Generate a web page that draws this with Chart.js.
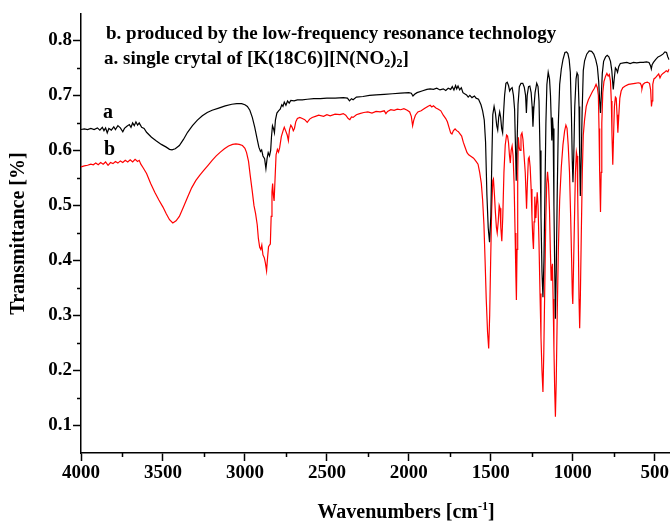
<!DOCTYPE html>
<html>
<head>
<meta charset="utf-8">
<script src="https://cdn.jsdelivr.net/npm/chart.js@4.4.0/dist/chart.umd.min.js"></script>
<style>
  html, body { margin: 0; padding: 0; background: #fff; }
  #wrap { width: 670px; height: 523px; }
</style>
</head>
<body>
<div id="wrap"><canvas id="irChart" width="670" height="523"></canvas></div>
<script>
// curve a: single crystal (black)
const waveA = [4000,3980,3960,3940,3920,3900,3885,3870,3860,3850,3840,3830,3815,3800,3790,3775,3760,3745,3735,3720,3705,3695,3685,3675,3665,3655,3645,3630,3615,3600,
  3570,3540,3510,3480,3460,3445,3425,3400,3375,3350,3320,3290,3260,3230,3200,3160,3120,3080,3050,3020,3000,2985,2970,2955,2940,2925,2915,2905,2898,2890,
  2880,2872,2865,2858,2850,2843,2838,2832,2826,2820,2814,2805,2795,2785,2775,2768,2760,2750,2740,2730,2720,2700,2680,2650,2620,2580,2540,2500,2450,2400,
  2375,2362,2350,2340,2320,2280,2240,2200,2150,2100,2050,2000,1985,1975,1965,1950,1920,1890,1870,1850,1830,1810,1790,1775,1760,1745,1735,1725,1715,1708,
  1700,1690,1680,1670,1660,1648,1638,1628,1615,1600,1590,1575,1560,1550,1540,1532,1524,1516,1508,1500,1494,1488,1480,1472,1464,1458,1452,1446,1440,1434,
  1428,1422,1416,1408,1400,1392,1385,1378,1370,1362,1355,1349,1345,1340,1334,1326,1316,1305,1296,1288,1283,1278,1270,1262,1254,1248,1243,1238,1230,1220,
  1212,1206,1200,1194,1188,1182,1176,1170,1164,1158,1150,1142,1136,1131,1128,1124,1120,1115,1110,1106,1101,1095,1088,1080,1070,1060,1048,1038,1030,1022,
  1015,1008,1003,999,994,988,980,974,968,962,958,954,949,943,936,928,915,900,885,872,860,850,842,836,831,826,820,812,800,790,
  780,770,762,757,753,748,740,733,727,720,710,690,670,650,630,610,590,570,550,535,526,521,516,508,495,480,465,450,438,428,420,412];
const transA = [0.638,0.639,0.638,0.640,0.638,0.641,0.637,0.642,0.636,0.641,0.632,0.640,0.637,0.643,0.638,0.645,0.641,0.634,0.640,0.644,0.647,0.642,0.650,0.645,0.652,0.646,0.650,0.642,0.640,0.633,
  0.624,0.617,0.611,0.606,0.602,0.601,0.603,0.609,0.620,0.633,0.645,0.655,0.663,0.669,0.673,0.677,0.681,0.684,0.685,0.685,0.683,0.680,0.673,0.660,0.642,0.620,0.606,0.598,0.601,0.590,
  0.585,0.567,0.585,0.596,0.590,0.600,0.625,0.645,0.640,0.632,0.655,0.668,0.672,0.675,0.683,0.680,0.688,0.682,0.690,0.686,0.691,0.690,0.692,0.692,0.693,0.694,0.694,0.695,0.695,0.696,
  0.695,0.690,0.694,0.692,0.697,0.698,0.700,0.701,0.702,0.703,0.704,0.705,0.704,0.699,0.702,0.705,0.708,0.711,0.712,0.711,0.713,0.710,0.712,0.709,0.713,0.711,0.716,0.710,0.718,0.712,
  0.717,0.710,0.714,0.705,0.703,0.701,0.697,0.700,0.696,0.699,0.695,0.693,0.683,0.672,0.655,0.615,0.520,0.460,0.433,0.480,0.580,0.665,0.680,0.668,0.645,0.637,0.660,0.670,0.660,0.640,
  0.632,0.670,0.700,0.722,0.724,0.718,0.708,0.712,0.714,0.700,0.675,0.600,0.545,0.610,0.684,0.716,0.722,0.722,0.715,0.700,0.668,0.700,0.716,0.717,0.705,0.680,0.643,0.675,0.705,0.722,
  0.716,0.690,0.600,0.480,0.380,0.333,0.400,0.520,0.650,0.720,0.742,0.730,0.700,0.650,0.618,0.660,0.640,0.500,0.380,0.294,0.380,0.520,0.650,0.720,0.748,0.765,0.778,0.779,0.776,0.765,
  0.742,0.660,0.580,0.542,0.590,0.680,0.730,0.741,0.737,0.680,0.590,0.517,0.580,0.670,0.745,0.763,0.775,0.781,0.780,0.775,0.765,0.752,0.725,0.690,0.668,0.700,0.740,0.762,0.770,0.773,
  0.770,0.762,0.745,0.725,0.711,0.728,0.750,0.747,0.742,0.752,0.758,0.759,0.760,0.758,0.760,0.759,0.760,0.760,0.761,0.760,0.754,0.748,0.756,0.760,0.765,0.770,0.772,0.775,0.779,0.778,0.770,0.765];

// curve b: low-frequency resonance product (red)
const waveB = [4000,3980,3960,3940,3925,3910,3895,3880,3865,3850,3835,3820,3805,3790,3775,3760,3745,3730,3715,3700,3685,3670,3655,3645,3635,3620,3600,3575,3550,3525,
  3500,3480,3460,3440,3420,3400,3375,3350,3325,3300,3275,3250,3225,3200,3175,3150,3125,3100,3075,3055,3035,3015,3000,2990,2978,2968,2955,2945,2935,2925,
  2918,2910,2903,2897,2890,2882,2875,2868,2862,2856,2850,2845,2840,2835,2831,2827,2822,2816,2810,2802,2795,2788,2778,2768,2760,2752,2742,2735,2728,2720,
  2712,2705,2698,2690,2680,2665,2650,2635,2620,2605,2590,2570,2550,2520,2500,2480,2450,2420,2400,2385,2370,2360,2350,2340,2320,2300,2275,2250,2225,2200,
  2175,2150,2140,2130,2110,2090,2070,2050,2030,2010,1995,1985,1977,1970,1960,1945,1925,1905,1885,1870,1860,1850,1835,1820,1805,1790,1775,1765,1755,1745,
  1737,1728,1718,1708,1698,1688,1678,1668,1656,1645,1635,1620,1605,1590,1578,1568,1558,1550,1542,1535,1528,1520,1513,1507,1501,1495,1488,1484,1478,1472,
  1466,1461,1455,1449,1444,1439,1433,1427,1420,1412,1404,1398,1392,1386,1381,1376,1370,1364,1358,1352,1347,1344,1340,1336,1332,1327,1322,1316,1310,1304,
  1297,1290,1285,1282,1277,1271,1266,1260,1254,1249,1244,1240,1236,1232,1228,1225,1221,1217,1212,1206,1200,1194,1188,1182,1177,1171,1165,1159,1154,1148,
  1142,1137,1132,1128,1124,1120,1115,1110,1106,1101,1095,1088,1080,1070,1060,1050,1042,1035,1028,1020,1013,1007,1003,1000,996,990,984,978,974,970,
  966,962,958,954,948,942,936,928,918,905,892,880,868,858,850,844,840,836,831,827,823,817,810,800,792,784,777,770,765,761,
  756,751,746,740,735,730,725,720,713,705,695,680,660,640,620,600,588,582,578,572,560,545,532,525,520,516,512,505,496,485,
  476,468,460,450,440,430,420,412];
const transB = [0.570,0.572,0.573,0.575,0.574,0.577,0.574,0.578,0.575,0.579,0.573,0.578,0.576,0.580,0.577,0.581,0.578,0.582,0.579,0.583,0.579,0.584,0.580,0.582,0.575,0.568,0.558,0.540,0.524,0.510,
  0.497,0.485,0.474,0.468,0.472,0.480,0.497,0.515,0.532,0.545,0.555,0.564,0.573,0.582,0.590,0.597,0.603,0.608,0.611,0.612,0.611,0.609,0.604,0.596,0.580,0.555,0.525,0.500,0.485,0.465,
  0.440,0.424,0.420,0.428,0.410,0.405,0.395,0.381,0.405,0.425,0.428,0.430,0.480,0.525,0.540,0.520,0.508,0.550,0.592,0.602,0.597,0.605,0.625,0.635,0.642,0.636,0.628,0.618,0.638,0.646,
  0.642,0.636,0.640,0.652,0.658,0.660,0.658,0.656,0.651,0.657,0.660,0.662,0.664,0.662,0.665,0.663,0.666,0.665,0.667,0.664,0.658,0.656,0.661,0.660,0.665,0.667,0.669,0.670,0.668,0.671,
  0.670,0.672,0.667,0.671,0.674,0.673,0.675,0.674,0.676,0.673,0.670,0.662,0.645,0.655,0.664,0.670,0.672,0.676,0.680,0.682,0.679,0.681,0.677,0.675,0.672,0.664,0.658,0.652,0.642,0.632,
  0.630,0.636,0.639,0.636,0.634,0.630,0.626,0.615,0.605,0.596,0.592,0.589,0.586,0.580,0.575,0.560,0.540,0.510,0.465,0.400,0.330,0.270,0.240,0.300,0.400,0.490,0.545,0.548,0.520,0.487,
  0.460,0.450,0.470,0.500,0.495,0.460,0.435,0.480,0.560,0.610,0.628,0.626,0.614,0.590,0.577,0.600,0.608,0.590,0.540,0.450,0.370,0.328,0.420,0.560,0.624,0.605,0.600,0.628,0.632,0.620,
  0.590,0.560,0.520,0.494,0.540,0.585,0.588,0.570,0.530,0.480,0.440,0.421,0.470,0.516,0.490,0.477,0.505,0.524,0.500,0.430,0.340,0.260,0.200,0.161,0.230,0.350,0.470,0.540,0.561,0.540,
  0.490,0.420,0.364,0.385,0.394,0.330,0.240,0.160,0.116,0.180,0.300,0.420,0.510,0.570,0.610,0.635,0.646,0.640,0.610,0.560,0.480,0.400,0.340,0.321,0.380,0.470,0.560,0.597,0.590,0.520,
  0.430,0.330,0.277,0.330,0.450,0.560,0.628,0.656,0.680,0.692,0.700,0.707,0.713,0.720,0.714,0.700,0.640,0.560,0.488,0.560,0.650,0.705,0.725,0.735,0.740,0.735,0.738,0.725,0.690,0.630,
  0.574,0.630,0.680,0.697,0.695,0.665,0.632,0.660,0.695,0.708,0.714,0.717,0.720,0.721,0.722,0.723,0.722,0.718,0.712,0.720,0.723,0.724,0.722,0.710,0.680,0.690,0.720,0.730,0.732,0.736,
  0.739,0.732,0.737,0.740,0.742,0.745,0.743,0.748];

const xTicks = [4000, 3500, 3000, 2500, 2000, 1500, 1000, 500];
const yTicks = [0.1, 0.2, 0.3, 0.4, 0.5, 0.6, 0.7, 0.8];
const minorX = [3750, 3250, 2750, 2250, 1750, 1250, 750];
const minorY = [0.15, 0.25, 0.35, 0.45, 0.55, 0.65, 0.75];

const serif = '"Liberation Serif", "Times New Roman", serif';

function drawRuns(ctx, x, y, runs) {
  let cx = x;
  runs.forEach(r => {
    ctx.font = 'bold ' + r.size + 'px ' + serif;
    ctx.fillText(r.t, cx, y + (r.dy || 0));
    cx += ctx.measureText(r.t).width;
  });
}
function runsWidth(ctx, runs) {
  let w = 0;
  runs.forEach(r => {
    ctx.font = 'bold ' + r.size + 'px ' + serif;
    w += ctx.measureText(r.t).width;
  });
  return w;
}

const annotations = {
  id: 'annotations',
  afterDraw(chart) {
    const ctx = chart.ctx;
    const xs = chart.scales.x, ys = chart.scales.y;
    ctx.save();
    ctx.strokeStyle = '#000';
    ctx.fillStyle = '#000';
    ctx.lineWidth = 1.5;
    ctx.beginPath();
    minorX.forEach(v => {
      const px = Math.round(xs.getPixelForValue(v)) + 0.5;
      ctx.moveTo(px, xs.top);
      ctx.lineTo(px, xs.top + 4);
    });
    minorY.forEach(v => {
      const py = Math.round(ys.getPixelForValue(v)) + 0.5;
      ctx.moveTo(ys.right, py);
      ctx.lineTo(ys.right - 4, py);
    });
    ctx.stroke();

    ctx.textAlign = 'left';
    ctx.textBaseline = 'alphabetic';
    drawRuns(ctx, 103, 118, [{t: 'a', size: 20}]);
    drawRuns(ctx, 104, 155, [{t: 'b', size: 20}]);
    drawRuns(ctx, 106, 39, [{t: 'b. produced by the low-frequency resonance technology', size: 19}]);
    drawRuns(ctx, 104, 64, [
      {t: 'a. single crytal of [K(18C6)][N(NO', size: 19},
      {t: '2', size: 12, dy: 3},
      {t: ')', size: 19},
      {t: '2', size: 12, dy: 3},
      {t: ']', size: 19}
    ]);
    const xTitle = [
      {t: 'Wavenumbers [cm', size: 20},
      {t: '-1', size: 12, dy: -8},
      {t: ']', size: 20}
    ];
    drawRuns(ctx, 406 - runsWidth(ctx, xTitle) / 2, 518, xTitle);
    ctx.restore();
  }
};

const ptsA = waveA.map((w, i) => ({x: w, y: transA[i]}));
const ptsB = waveB.map((w, i) => ({x: w, y: transB[i]}));

const tickFont = {family: serif, size: 19, weight: 'bold'};

new Chart(document.getElementById('irChart').getContext('2d'), {
  type: 'line',
  data: {
    datasets: [
      {label: 'a', data: ptsA, borderColor: '#000000', borderWidth: 1.2, pointRadius: 0, tension: 0, fill: false},
      {label: 'b', data: ptsB, borderColor: '#ff0000', borderWidth: 1.2, pointRadius: 0, tension: 0, fill: false}
    ]
  },
  options: {
    responsive: false,
    devicePixelRatio: 1,
    animation: false,
    parsing: false,
    layout: {padding: {top: 14, right: 0, left: 0, bottom: 0}},
    plugins: {legend: {display: false}, tooltip: {enabled: false}},
    scales: {
      x: {
        type: 'linear',
        reverse: true,
        min: 410,
        max: 4000,
        afterFit: s => { s.height = 70; },
        afterBuildTicks: s => { s.ticks = xTicks.map(v => ({value: v})); },
        border: {display: true, color: '#000', width: 1.5},
        grid: {drawOnChartArea: false, drawTicks: true, tickLength: 8, tickColor: '#000', tickWidth: 1.5},
        ticks: {color: '#000', font: tickFont, padding: 1, maxRotation: 0, minRotation: 0,
          autoSkip: false, callback: v => String(v)},
        title: {display: false}
      },
      y: {
        type: 'linear',
        min: 0.05,
        max: 0.848,
        afterFit: s => { s.width = 81; },
        afterBuildTicks: s => { s.ticks = yTicks.map(v => ({value: v})); },
        border: {display: true, color: '#000', width: 1.5},
        grid: {drawOnChartArea: false, drawTicks: true, tickLength: 8, tickColor: '#000', tickWidth: 1.5},
        ticks: {color: '#000', font: tickFont, padding: 1, autoSkip: false, callback: v => v.toFixed(1)},
        title: {display: true, text: 'Transmittance [%]', color: '#000',
          font: {family: serif, size: 20, weight: 'bold'}, padding: {top: 7, bottom: 0}}
      }
    }
  },
  plugins: [annotations]
});
</script>
</body>
</html>
